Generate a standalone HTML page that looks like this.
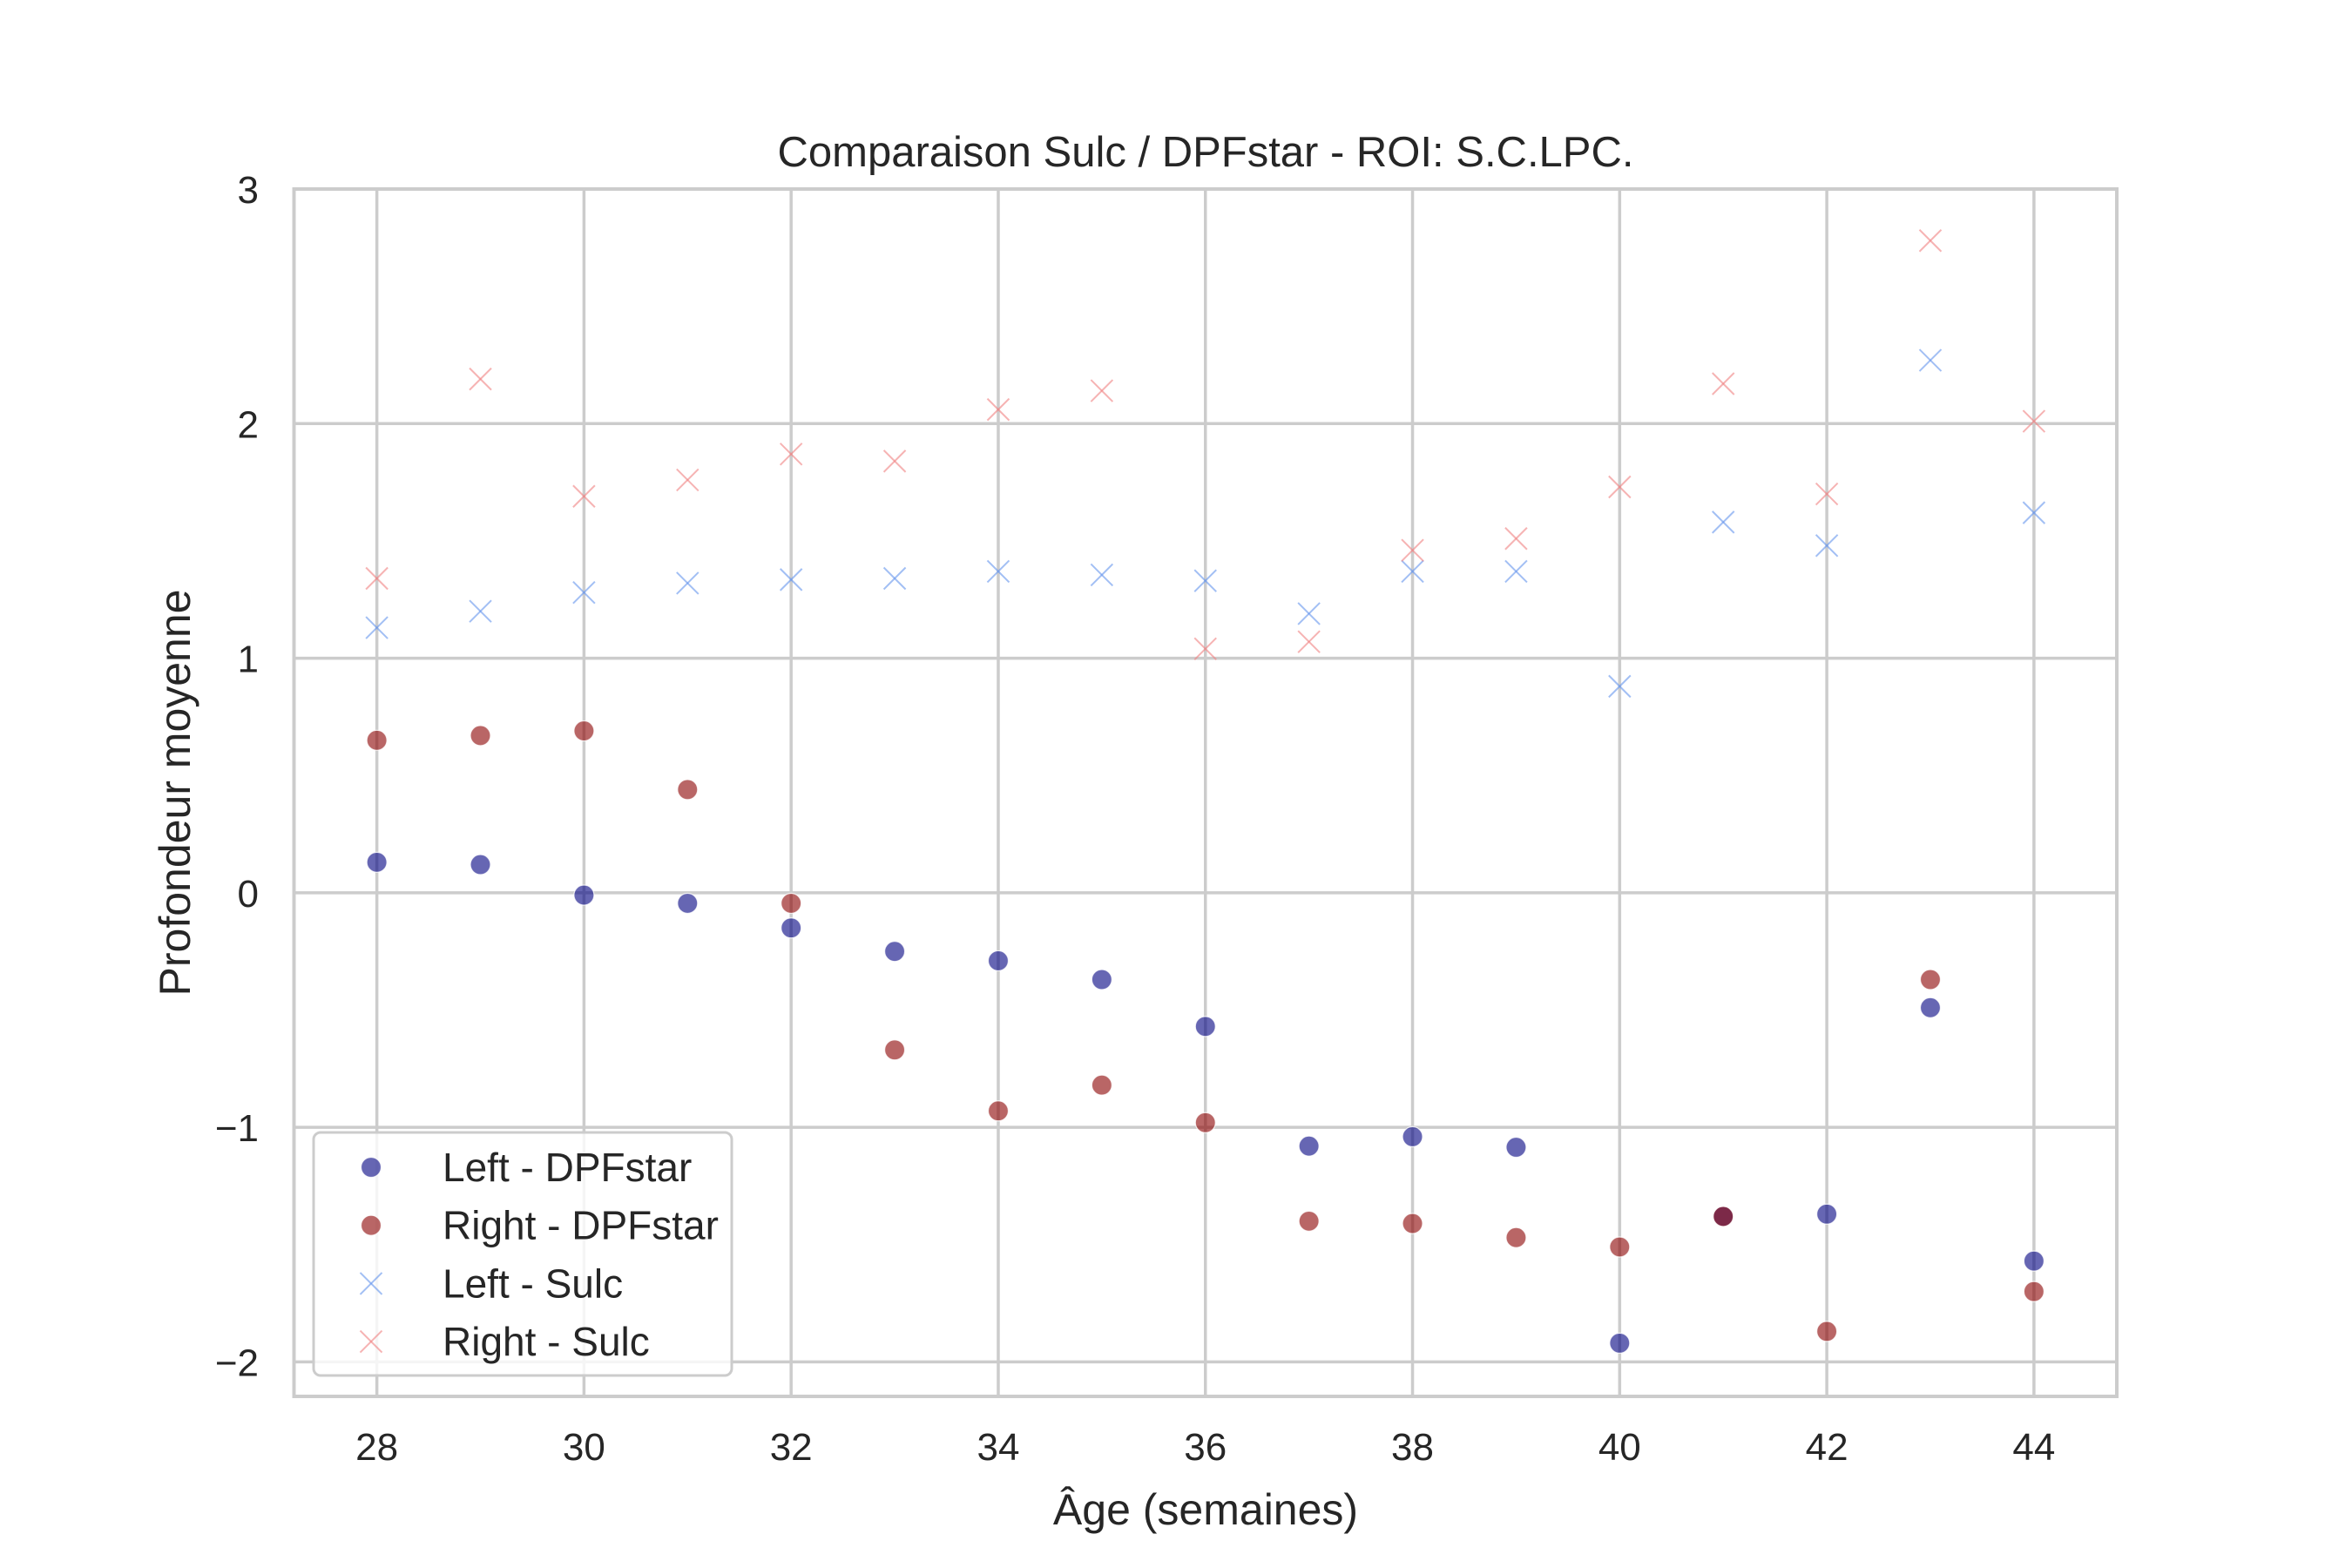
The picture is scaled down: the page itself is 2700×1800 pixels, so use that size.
<!DOCTYPE html>
<html><head><meta charset="utf-8">
<style>
html,body{margin:0;padding:0;background:#fff;}
svg{display:block;font-family:"Liberation Sans","DejaVu Sans",sans-serif;}
</style></head>
<body>
<svg id="chart" width="2700" height="1800" viewBox="0 0 2700 1800" xmlns="http://www.w3.org/2000/svg">
<rect x="0" y="0" width="2700" height="1800" fill="#fff"/>
<g id="grid"></g>
<g id="marks"></g>
<g id="spines"></g>
<g id="ticks"></g>
<text x="1384" y="191" font-size="49" fill="#262626" text-anchor="middle">Comparaison Sulc / DPFstar - ROI: S.C.LPC.</text>
<text x="1384" y="1750" font-size="50" fill="#262626" text-anchor="middle">Âge (semaines)</text>
<text transform="translate(218,910) rotate(-90)" font-size="50" fill="#262626" text-anchor="middle">Profondeur moyenne</text>
<g id="legend"></g>
</svg>
<script>
const ages = [28,29,30,31,32,33,34,35,36,37,38,39,40,41,42,43,44];
const leftDPF = [0.13,0.12,-0.01,-0.045,-0.15,-0.25,-0.29,-0.37,-0.57,-1.08,-1.04,-1.085,-1.92,-1.38,-1.37,-0.49,-1.57];
const rightDPF = [0.65,0.67,0.69,0.44,-0.045,-0.67,-0.93,-0.82,-0.98,-1.40,-1.41,-1.47,-1.51,-1.38,-1.87,-0.37,-1.70];
const leftSulc = [1.13,1.20,1.28,1.32,1.335,1.34,1.37,1.355,1.33,1.19,1.37,1.37,0.88,1.58,1.48,2.27,1.62];
const rightSulc = [1.34,2.19,1.69,1.76,1.87,1.84,2.06,2.14,1.04,1.07,1.46,1.51,1.73,2.17,1.70,2.78,2.01];
const xTicks = [28,30,32,34,36,38,40,42,44];
const yTicks = [3,2,1,0,-1,-2];
const yTickLabels = ["3","2","1","0","\u22121","\u22122"];

const NS = "http://www.w3.org/2000/svg";
const X0 = 337.5, X1 = 2430, Y0 = 217, Y1 = 1603;
const xMin = 27.2, xMax = 44.8, yMax = 3, yMin = -2.147;
function sx(v){ return X0 + (v - xMin) / (xMax - xMin) * (X1 - X0); }
function sy(v){ return Y0 + (yMax - v) / (yMax - yMin) * (Y1 - Y0); }
function mk(tag, attrs, parent){
  const e = document.createElementNS(NS, tag);
  for (const k in attrs) e.setAttribute(k, attrs[k]);
  parent.appendChild(e);
  return e;
}
const grid = document.getElementById('grid');
const marks = document.getElementById('marks');
const spines = document.getElementById('spines');
const ticks = document.getElementById('ticks');
const legend = document.getElementById('legend');
const GC = "#cccccc";

xTicks.forEach(t => {
  const l = mk('line', {x1:sx(t), x2:sx(t), y1:Y0, y2:Y1, stroke:GC, 'stroke-width':3.5}, grid);
  
  
  const tx = mk('text', {x:sx(t), y:1676, 'font-size':44, fill:'#262626', 'text-anchor':'middle'}, ticks);
  tx.textContent = t;
  
  
});
yTicks.forEach((t, i) => {
  const l = mk('line', {x1:X0, x2:X1, y1:sy(t), y2:sy(t), stroke:GC, 'stroke-width':3.5}, grid);
  
  
  const tx = mk('text', {x:297, y:sy(t) + 16, 'font-size':44, fill:'#262626', 'text-anchor':'end'}, ticks);
  tx.textContent = yTickLabels[i];
  
  
});
const fr = mk('rect', {x:X0, y:Y0, width:X1 - X0, height:Y1 - Y0, fill:'none', stroke:GC, 'stroke-width':4}, spines);



function drawX(parent, cx, cy, color, name){
  const g = mk('g', {stroke:color, 'stroke-width':2, 'stroke-opacity':0.6}, parent);
  
  
  mk('line', {x1:cx - 12.5, y1:cy - 12.5, x2:cx + 12.5, y2:cy + 12.5}, g);
  mk('line', {x1:cx - 12.5, y1:cy + 12.5, x2:cx + 12.5, y2:cy - 12.5}, g);
}
function drawDot(parent, cx, cy, color, name){
  const c = mk('circle', {cx:cx, cy:cy, r:11.5, fill:color, 'fill-opacity':0.6, stroke:'#fff', 'stroke-width':1.2, 'stroke-opacity':0.8}, parent);
  
  
}
const BLUE = "#000080", RED = "#8b0000", LBLUE = "#6495ed", LRED = "#f08080";
ages.forEach((a, i) => drawDot(marks, sx(a), sy(leftDPF[i]), BLUE, 'left-dpfstar-point'));
ages.forEach((a, i) => drawDot(marks, sx(a), sy(rightDPF[i]), RED, 'right-dpfstar-point'));
ages.forEach((a, i) => drawX(marks, sx(a), sy(leftSulc[i]), LBLUE, 'left-sulc-point'));
ages.forEach((a, i) => drawX(marks, sx(a), sy(rightSulc[i]), LRED, 'right-sulc-point'));

// legend
const lb = mk('rect', {x:360, y:1300, width:480, height:279, rx:8, fill:'#fff', 'fill-opacity':0.8, stroke:'#cccccc', 'stroke-width':3}, legend);


const entries = [["Left - DPFstar","dot",BLUE],["Right - DPFstar","dot",RED],["Left - Sulc","x",LBLUE],["Right - Sulc","x",LRED]];
entries.forEach((e, i) => {
  const y = 1340 + i * 66.7;
  if (e[1] === "dot") drawDot(legend, 426, y, e[2], 'legend-marker');
  else drawX(legend, 426, y, e[2], 'legend-marker');
  const t = mk('text', {x:508, y:y + 16, 'font-size':46, fill:'#262626'}, legend);
  t.textContent = e[0];
  
  
});
</script>
</body></html>
